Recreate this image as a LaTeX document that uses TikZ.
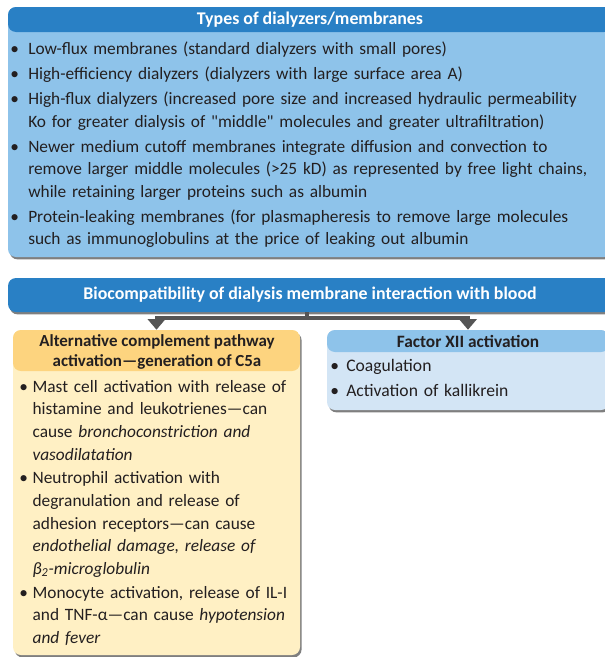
\documentclass[tikz,border=0pt]{standalone}
\usepackage{fontspec}
\setmainfont{Carlito}
\usetikzlibrary{arrows.meta,fit,shadows,positioning}

\definecolor{hdrblue}{RGB}{41,128,197}
\definecolor{paleblue}{RGB}{142,195,234}
\definecolor{iceblue}{RGB}{211,229,245}
\definecolor{hdryellow}{RGB}{253,212,127}
\definecolor{paleyellow}{RGB}{255,240,196}
\definecolor{linkgray}{RGB}{85,85,85}
\definecolor{inkgray}{RGB}{35,31,32}

\newlength\bulw
\newcommand{\bfirst}{\hangindent=\bulw\hangafter=1\noindent\makebox[\bulw][l]{\textbullet}}
\newcommand{\bitem}{\par\bfirst}

\begin{document}
\begin{tikzpicture}[x=0.75pt, y=-0.75pt, every node/.style={font=\fontsize{13}{16.8}\selectfont, text=inkgray}]
\tikzset{
  panel/.style n args={3}{fill=#1, rounded corners=6pt, inner sep=0pt,
    drop shadow={shadow xshift=1.2pt, shadow yshift=-1.8pt, fill=black, opacity=0.5},
    path picture={\fill[#2] (path picture bounding box.north west) rectangle ([yshift=-#3]path picture bounding box.north east);}},
  title/.style={font=\bfseries\fontsize{#1}{14.5}\selectfont, align=center, inner sep=0pt},
  bullets/.style={anchor=base west, inner sep=0pt, text width=#1, align=left},
  link/.style={draw=linkgray, line width=3pt}
}
\useasboundingbox (0,0) rectangle (605,657);
\clip (0,0) rectangle (605,657);

% types of dialyzers
\node[panel={paleblue}{hdrblue}{18.75pt}, fit={(8,7) (612,257)}] (typesBox) {};
\node[title=13.4, text=white] (typesTitle) at (310,20) {Types of dialyzers/membranes};
\node[bullets=450pt] (typesList) at (10,54) {\fontsize{13}{16.7}\selectfont\setlength\bulw{13.5pt}\setlength\parskip{2.4pt}%
\bfirst Low-flux membranes (standard dialyzers with small pores)
\bitem High-efficiency dialyzers (dialyzers with large surface area A)
\bitem High-flux dialyzers (increased pore size and increased hydraulic permeability\newline Ko for greater dialysis of \textquotedbl middle\textquotedbl{} molecules and greater ultrafiltration)
\bitem Newer medium cutoff membranes integrate diffusion and convection to\newline remove larger middle molecules (>25 kD) as represented by free light chains,\newline while retaining larger proteins such as albumin
\bitem Protein-leaking membranes (for plasmapheresis to remove large molecules\newline such as immunoglobulins at the price of leaking out albumin\par};

% biocompatibility bar
\node[panel={hdrblue}{hdrblue}{0pt}, fit={(8,278) (612,312)}] (bioBar) {};
\node[title=13.4, text=white] (bioTitle) at (310,295) {Biocompatibility of dialysis membrane interaction with blood};

% complement pathway
\node[panel={paleyellow}{hdryellow}{30.75pt}, fit={(13,330) (300,655)}] (compBox) {};
\node[title=12.7] (compTitle) at (157,352) {Alternative complement pathway\\activation---generation of C5a};
\node[bullets=260pt] (compList) at (19,392) {\fontsize{13}{17}\selectfont\setlength\bulw{10pt}\setlength\parskip{0.8pt}%
\bfirst Mast cell activation with release of\newline histamine and leukotrienes---can\newline cause \textit{bronchoconstriction and}\newline \textit{vasodilatation}
\bitem Neutrophil activation with\newline degranulation and release of\newline adhesion receptors---can cause\newline \textit{endothelial damage, release of}\newline \textit{β\textsubscript{2}-microglobulin}
\bitem Monocyte activation, release of IL-I\newline and TNF-α---can cause \textit{hypotension}\newline \textit{and fever}\par};

% factor XII
\node[panel={iceblue}{paleblue}{16.5pt}, fit={(327,330) (609,410)}] (factorBox) {};
\node[title=13] (factorTitle) at (468,341) {Factor XII activation};
\node[bullets=250pt] (factorList) at (330,371) {\fontsize{13.2}{16.8}\selectfont\setlength\bulw{12pt}\setlength\parskip{2.4pt}%
\bfirst Coagulation
\bitem Activation of kallikrein\par};

% connectors
\coordinate (fork) at (307,318);
\draw[link] (fork |- bioBar.south) -- (fork);
\draw[link, -{Triangle[width=13pt,length=8pt]}] (fork) -| (compBox.north);
\draw[link, -{Triangle[width=13pt,length=8pt]}] (fork) -| (factorBox.north);
\end{tikzpicture}
\end{document}
